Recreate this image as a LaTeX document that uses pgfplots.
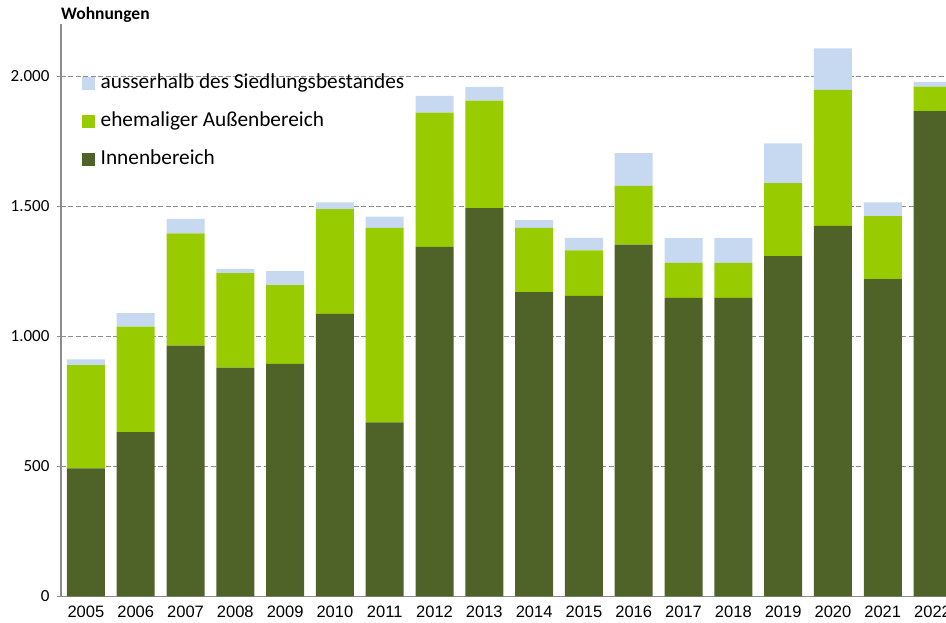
\documentclass[border=0pt]{standalone}
\usepackage{fontspec}
\setmainfont{Carlito}
\newfontfamily\arialfont{Liberation Sans}
\usepackage{pgfplots}
\usepackage{pgfplotstable}
\pgfplotsset{compat=1.18}
\definecolor{cInnen}{HTML}{4F6228}
\definecolor{cAussen}{HTML}{99CC00}
\definecolor{cAusser}{HTML}{C6D9F1}
\definecolor{cAxis}{HTML}{8C8C8C}
\pgfplotstableread{
x innen aussen ausserhalb
0 493 397 22
1 632 406 52
2 965 432 55
3 880 364 16
4 895 303 53
5 1087 403 26
6 670 748 43
7 1345 516 64
8 1494 413 53
9 1171 247 30
10 1156 175 48
11 1353 226 126
12 1149 134 95
13 1149 134 95
14 1309 281 153
15 1425 524 159
16 1221 242 53
17 1867 94 18
}\data
\begin{document}
\begin{tikzpicture}
\begin{axis}[
  scale only axis, width=885pt, height=572pt,
  xmin=-0.5, xmax=17.27, ymin=0, ymax=2200,
  ybar stacked, bar width=38pt,
  axis x line*=bottom, axis y line*=left,
  axis line style={draw=cAxis, line width=1.2pt},
  xtick={0,...,17},
  xticklabels={2005,2006,2007,2008,2009,2010,2011,2012,2013,2014,2015,2016,2017,2018,2019,2020,2021,2022},
  x tick style={draw=none},
  xticklabel style={font=\arialfont\fontsize{16.5}{18}\selectfont, yshift=-2pt},
  ytick={0,500,1000,1500,2000},
  y tick style={draw=cAxis, line width=1pt},
  tick align=outside, major tick length=4pt,
  yticklabel style={font=\fontsize{17}{19}\selectfont, xshift=-4pt},
  /pgf/number format/.cd, 1000 sep={.}, assume math mode=true,
  /pgfplots/.cd,
  ymajorgrids, grid style={draw=cAxis, line width=1pt, dash pattern=on 5pt off 2.5pt},
  reverse legend,
  legend style={at={(rel axis cs:0,1)}, anchor=north west, xshift=21pt, yshift=-47.5pt,
    draw=none, fill=none, inner sep=0pt, row sep=16pt, column sep=4pt,
    font=\fontsize{21.3}{24}\selectfont,
    nodes={inner sep=2pt, text height=14pt, text depth=4pt}},
  legend cell align=left,
  legend image code/.code={\fill[#1] (0pt,-6.5pt) rectangle (12.5pt,6pt);},
  clip mode=individual,
]
\addplot[fill=cInnen, draw=none] table[x=x, y=innen] {\data};
\addplot[fill=cAussen, draw=none] table[x=x, y=aussen] {\data};
\addplot[fill=cAusser, draw=none] table[x=x, y=ausserhalb] {\data};
\legend{Innenbereich, ehemaliger Außenbereich, ausserhalb des Siedlungsbestandes}
\coordinate (SW) at (rel axis cs:0,0);
\coordinate (NW) at (rel axis cs:0,1);
\end{axis}
\node[anchor=base west, font=\bfseries\fontsize{17.5}{19}\selectfont, inner sep=0pt, yshift=4.5pt] at (NW) {Wohnungen};
\pgfresetboundingbox
\path[use as bounding box] (SW) ++(-61pt,-26.5pt) rectangle ++(946pt,623pt);
\end{tikzpicture}
\end{document}
